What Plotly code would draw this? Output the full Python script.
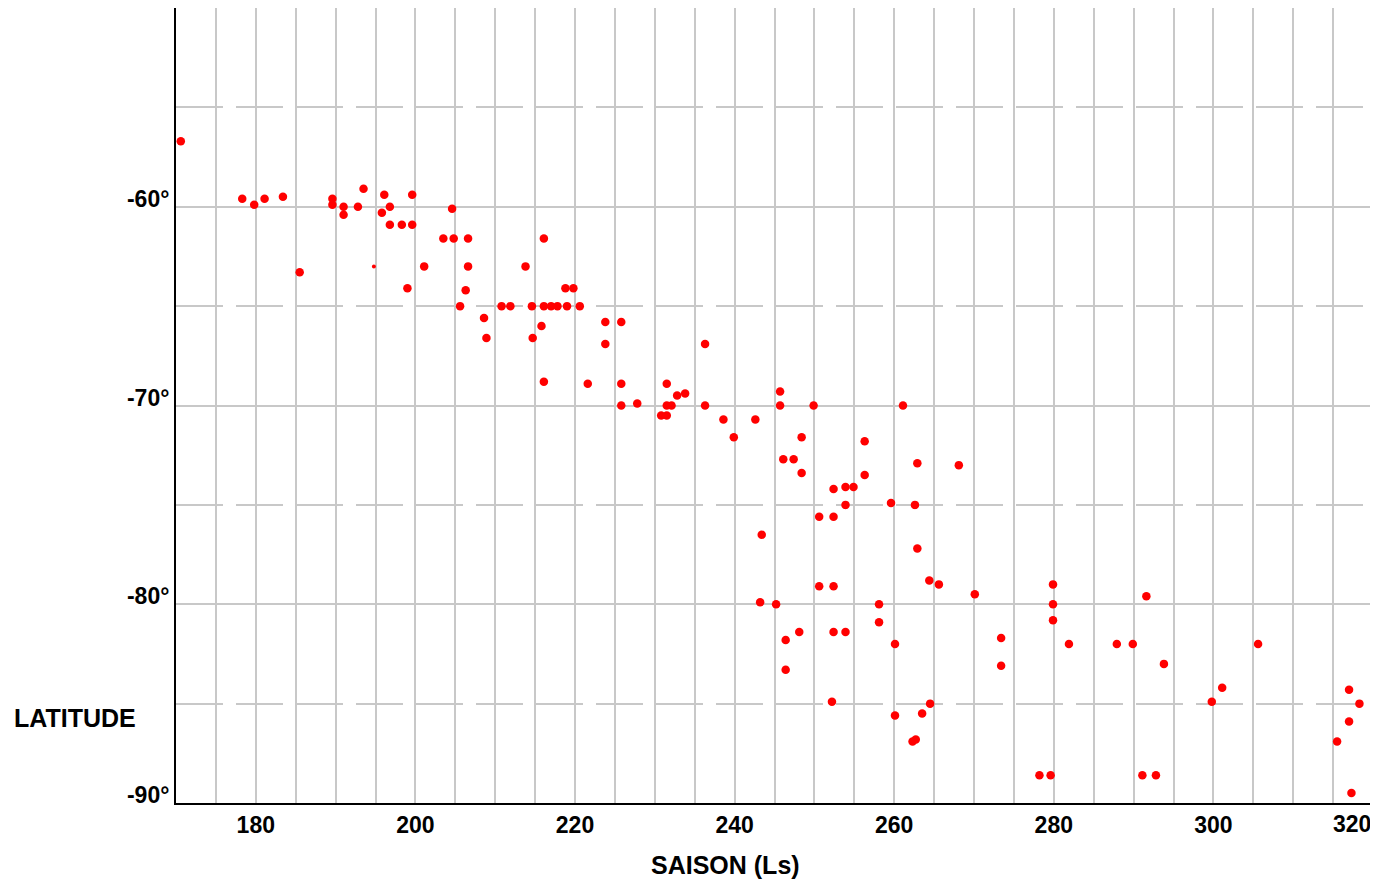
import plotly.graph_objects as go

# ---- data ----
ls_values = [
    170.6, 178.3, 179.8, 181.1, 183.4, 185.5, 189.6, 189.6, 191.0, 191.0,
    192.8, 193.5, 195.8, 196.1, 196.8, 196.8, 198.3, 199.6, 199.6, 199.0,
    201.1, 204.6, 203.5, 204.8, 206.6, 206.6, 206.3, 205.6, 216.1, 213.8,
    210.8, 211.9, 214.6, 216.1, 217.0, 217.8, 219.0, 220.6, 218.8, 219.8,
    208.6, 208.9, 215.8, 214.7, 216.1, 221.6, 223.8, 225.8, 223.8, 225.8,
    225.8, 227.8, 231.5, 232.8, 233.8, 231.5, 232.1, 230.8, 231.5, 236.3,
    236.3, 238.6, 239.9, 242.6, 243.4, 243.2, 245.2, 245.7, 245.7, 246.1,
    247.4, 248.4, 248.4, 249.9, 250.6, 252.4, 252.4, 253.9, 254.9, 253.9,
    250.6, 252.4, 256.3, 256.3, 259.6, 261.1, 262.6, 262.9, 262.9, 264.4,
    265.6, 268.1, 270.1, 258.1, 258.1, 246.4, 248.1, 246.4, 252.4, 253.9,
    252.2, 260.1, 260.1, 262.3, 262.7, 263.5, 264.5, 273.4, 273.4, 279.9,
    279.9, 279.9, 281.9, 278.2, 279.6, 287.9, 289.9, 291.6, 293.8, 291.1,
    292.8, 299.8, 301.1, 305.6, 317.0, 318.3, 317.0, 315.5, 317.3,
]
lat_values = [
    -56.7, -59.6, -59.9, -59.6, -59.5, -63.3, -59.6, -59.9, -60.0, -60.4,
    -60.0, -59.1, -60.3, -59.4, -60.0, -60.9, -60.9, -60.9, -59.4, -64.1,
    -63.0, -60.1, -61.6, -61.6, -61.6, -63.0, -64.2, -65.0, -61.6, -63.0,
    -65.0, -65.0, -65.0, -65.0, -65.0, -65.0, -65.0, -65.0, -64.1, -64.1,
    -65.6, -66.6, -66.0, -66.6, -68.8, -68.9, -65.8, -65.8, -66.9, -68.9,
    -70.0, -69.9, -68.9, -69.5, -69.4, -70.0, -70.0, -70.5, -70.5, -66.9,
    -70.0, -70.7, -71.6, -70.7, -76.5, -79.9, -80.0, -69.3, -70.0, -72.7,
    -72.7, -71.6, -73.4, -70.0, -75.6, -75.6, -74.2, -74.1, -74.1, -75.0,
    -79.1, -79.1, -71.8, -73.5, -74.9, -70.0, -75.0, -72.9, -77.2, -78.8,
    -79.0, -73.0, -79.5, -80.0, -80.9, -81.8, -81.4, -83.3, -81.4, -81.4,
    -84.9, -82.0, -85.6, -86.9, -86.8, -85.5, -85.0, -81.7, -83.1, -79.0,
    -80.0, -80.8, -82.0, -88.6, -88.6, -82.0, -82.0, -79.6, -83.0, -88.6,
    -88.6, -84.9, -84.2, -82.0, -84.3, -85.0, -85.9, -86.9, -89.5,
]
# one faint, smaller mark
ls_small = [194.8]
lat_small = [-63.0]

x_tick_vals = [180, 200, 220, 240, 260, 280, 300]
x_tick_text = ["180", "200", "220", "240", "260", "280", "300"]
x_last_label = "320"
y_tick_vals = [-90, -80, -70, -60]
y_tick_text = ["-90°", "-80°", "-70°", "-60°"]
y_dashed_vals = [-85, -75, -65, -55]

x_title = "SAISON (Ls)"
y_title = "LATITUDE"

FONT = "Liberation Sans, Arial, sans-serif"
GRID = "#c8c8c8"

fig = go.Figure()
fig.add_trace(go.Scatter(
    x=ls_values, y=lat_values, mode="markers",
    marker=dict(color="#ff0000", size=8.5, line=dict(width=0)),
    hoverinfo="x+y", showlegend=False,
))
fig.add_trace(go.Scatter(
    x=ls_small, y=lat_small, mode="markers",
    marker=dict(color="#ff0000", size=4, line=dict(width=0)),
    hoverinfo="x+y", showlegend=False,
))

# page body has an 8px margin, so the figure is sized/offset to compensate
fig.update_layout(
    width=1370, height=875, autosize=False,
    margin=dict(l=168, r=5, t=0, b=80),
    paper_bgcolor="white", plot_bgcolor="white",
    font=dict(family=FONT, color="black"),
    showlegend=False,
)

fig.update_xaxes(
    range=[170, 320],
    tickmode="array", tickvals=x_tick_vals, ticktext=x_tick_text,
    ticks="", showgrid=True, gridcolor=GRID, gridwidth=2,
    minor=dict(tick0=170, dtick=5, showgrid=True, gridcolor=GRID, gridwidth=2, ticks=""),
    showline=True, linecolor="black", linewidth=2,
    zeroline=False,
    tickfont=dict(family=FONT, size=23, color="black", weight="bold"),
)
fig.update_yaxes(
    range=[-90, -50],
    tickmode="array", tickvals=y_tick_vals, ticktext=y_tick_text,
    ticks="", showgrid=True, gridcolor=GRID, gridwidth=2,
    minor=dict(tickmode="array", tickvals=y_dashed_vals, showgrid=True,
               gridcolor=GRID, gridwidth=2, griddash="47px,13px", ticks=""),
    showline=True, linecolor="black", linewidth=2,
    zeroline=False,
    ticklabelshift=-8,
    tickfont=dict(family=FONT, size=23, color="black", weight="bold"),
)

fig.add_annotation(
    text=x_last_label, xref="x", yref="paper", x=320, y=-0.026,
    xanchor="right", yanchor="middle", showarrow=False,
    font=dict(family=FONT, size=23, color="black", weight="bold"),
)
fig.add_annotation(
    text=x_title, xref="x", yref="paper", x=238.8, y=-0.0776,
    xanchor="center", yanchor="middle", showarrow=False,
    font=dict(family=FONT, size=25, color="black", weight="bold"),
)
fig.add_annotation(
    text=y_title, xref="paper", yref="y", x=-0.137, y=-85.7,
    xanchor="left", yanchor="middle", showarrow=False,
    font=dict(family=FONT, size=25, color="black", weight="bold"),
)

fig.write_html("out.html")
